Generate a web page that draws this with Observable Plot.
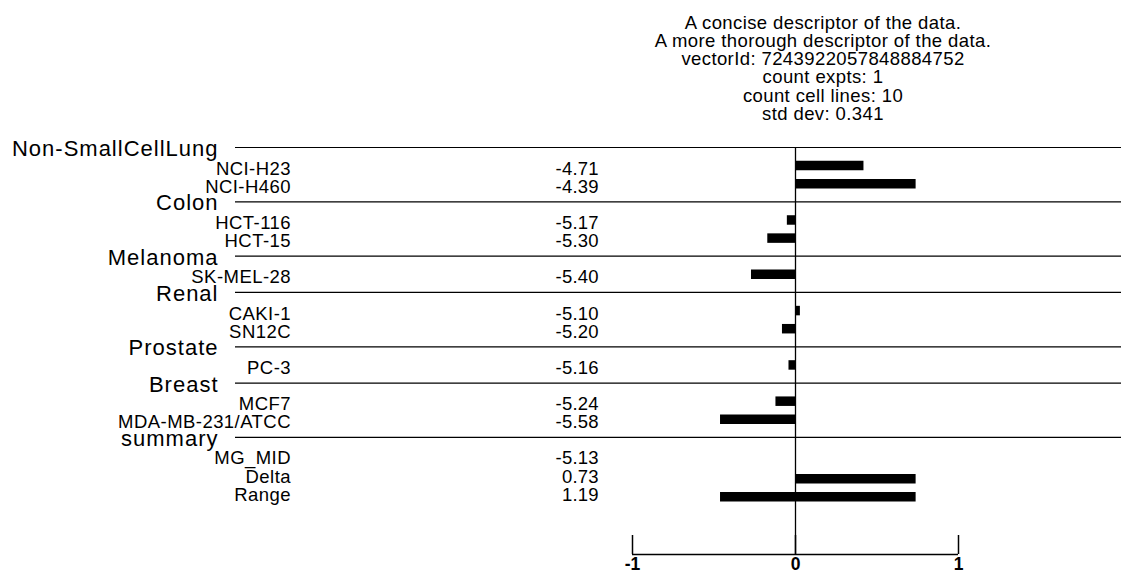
<!DOCTYPE html>
<html><head><meta charset="utf-8">
<script src="https://cdn.jsdelivr.net/npm/d3@7"></script>
<script src="https://cdn.jsdelivr.net/npm/@observablehq/plot@0.6"></script>
<style>
html,body{margin:0;padding:0;background:#fff;}
body{width:1121px;height:574px;overflow:hidden;font-family:"Liberation Sans",Arial,sans-serif;color:#000;}
#title{box-sizing:border-box;height:125px;padding-top:13.5px;margin-left:523px;width:600px;text-align:center;font-size:18.5px;line-height:18.25px;letter-spacing:0.4px;}
#chart svg{display:block;}
</style></head><body>
<div id="title"></div>
<div id="chart"></div>
<script>
const titleLines = [
  "A concise descriptor of the data.",
  "A more thorough descriptor of the data.",
  "vectorId: 7243922057848884752",
  "count expts: 1",
  "count cell lines: 10",
  "std dev: 0.341"
];
const groups = ["Non-SmallCellLung", "Colon", "Melanoma", "Renal", "Prostate", "Breast"];
const cellLines = ["NCI-H23", "NCI-H460", "HCT-116", "HCT-15", "SK-MEL-28", "CAKI-1", "SN12C", "PC-3", "MCF7", "MDA-MB-231/ATCC"];
const cellGroups = ["Non-SmallCellLung", "Non-SmallCellLung", "Colon", "Colon", "Melanoma", "Renal", "Renal", "Prostate", "Breast", "Breast"];
const cellValues = ["-4.71", "-4.39", "-5.17", "-5.30", "-5.40", "-5.10", "-5.20", "-5.16", "-5.24", "-5.58"];
const cellBars = [0.42, 0.74, -0.05, -0.17, -0.27, 0.03, -0.08, -0.04, -0.12, -0.46];
const summaryGroup = "summary";
const summaryLabels = ["MG_MID", "Delta", "Range"];
const summaryValues = ["-5.13", "0.73", "1.19"];
const summaryBarStart = [null, 0, -0.46];
const summaryBarEnd = [null, 0.74, 0.74];
const xTicks = [-1, 0, 1];

document.getElementById("title").innerHTML = titleLines.map(t => `<div>${t}</div>`).join("");

// build rows (layout order)
const groupRows = [], itemRows = [], summaryRows = [];
let rowIdx = 0;
groups.forEach(g => {
  groupRows.push({row: rowIdx++, label: g});
  cellLines.forEach((c, i) => {
    if (cellGroups[i] === g) itemRows.push({row: rowIdx++, label: c, value: cellValues[i], bar: cellBars[i]});
  });
});
groupRows.push({row: rowIdx++, label: summaryGroup});
summaryLabels.forEach((s, i) => {
  const d = {row: rowIdx++, label: s, value: summaryValues[i], x1: summaryBarStart[i], x2: summaryBarEnd[i]};
  itemRows.push(d); summaryRows.push(d);
});
const lastRow = rowIdx - 1;
const pitch = 18.12, topY = 22;
const axisRow = (429 - topY) / pitch;
const tickTopRow = (410 - topY) / pitch;
const font = "'Liberation Sans', Arial, sans-serif";

const chart = Plot.plot({
  width: 1121, height: 449,
  marginLeft: 235, marginRight: 0, marginTop: 0, marginBottom: 0,
  style: {fontFamily: font, background: "white", color: "black", overflow: "visible"},
  x: {domain: [-1, 1], range: [632, 958], axis: null},
  y: {type: "linear", domain: [0, lastRow], range: [topY, topY + lastRow * pitch], axis: null},
  marks: [
    Plot.ruleY(groupRows, {y: "row", stroke: "black", strokeWidth: 1.2}),
    Plot.ruleX([0], {x: d => d, y1: 0, y2: axisRow, stroke: "black", strokeWidth: 1.3}),
    Plot.ruleY(itemRows.filter(d => d.bar != null), {y: "row", x1: 0, x2: "bar", stroke: "black", strokeWidth: 9.5}),
    Plot.ruleY(summaryRows.filter(d => d.x1 != null), {y: "row", x1: "x1", x2: "x2", stroke: "black", strokeWidth: 9.5, dy: 5}),
    Plot.text(groupRows, {y: "row", text: "label", frameAnchor: "left", textAnchor: "end", dx: -17, dy: 1.5, fontSize: 22}),
    Plot.text(itemRows, {y: "row", text: "label", frameAnchor: "left", textAnchor: "end", dx: 55.5, dy: 3, fontSize: 18.5}),
    Plot.text(itemRows, {y: "row", text: "value", frameAnchor: "left", textAnchor: "end", dx: 363.2, dy: 3, fontSize: 18.5}),
    Plot.ruleY([axisRow], {y: d => d, x1: -1, x2: 1, stroke: "black", strokeWidth: 1.5}),
    Plot.ruleX(xTicks, {x: d => d, y1: tickTopRow, y2: axisRow, stroke: "black", strokeWidth: 1.5}),
    Plot.text(xTicks, {x: d => d, y: axisRow, text: d => String(d), lineAnchor: "top", dy: 3, fontSize: 17.5, fontWeight: "bold"})
  ]
});
const textGroups = d3.select(chart).selectAll('g[aria-label="text"]').nodes();
const spacings = ["1px", "0.45px", "0.2px", "0px"];
textGroups.forEach((g, i) => g.style.letterSpacing = spacings[i] || "0px");
document.getElementById("chart").appendChild(chart);
</script>
</body></html>
